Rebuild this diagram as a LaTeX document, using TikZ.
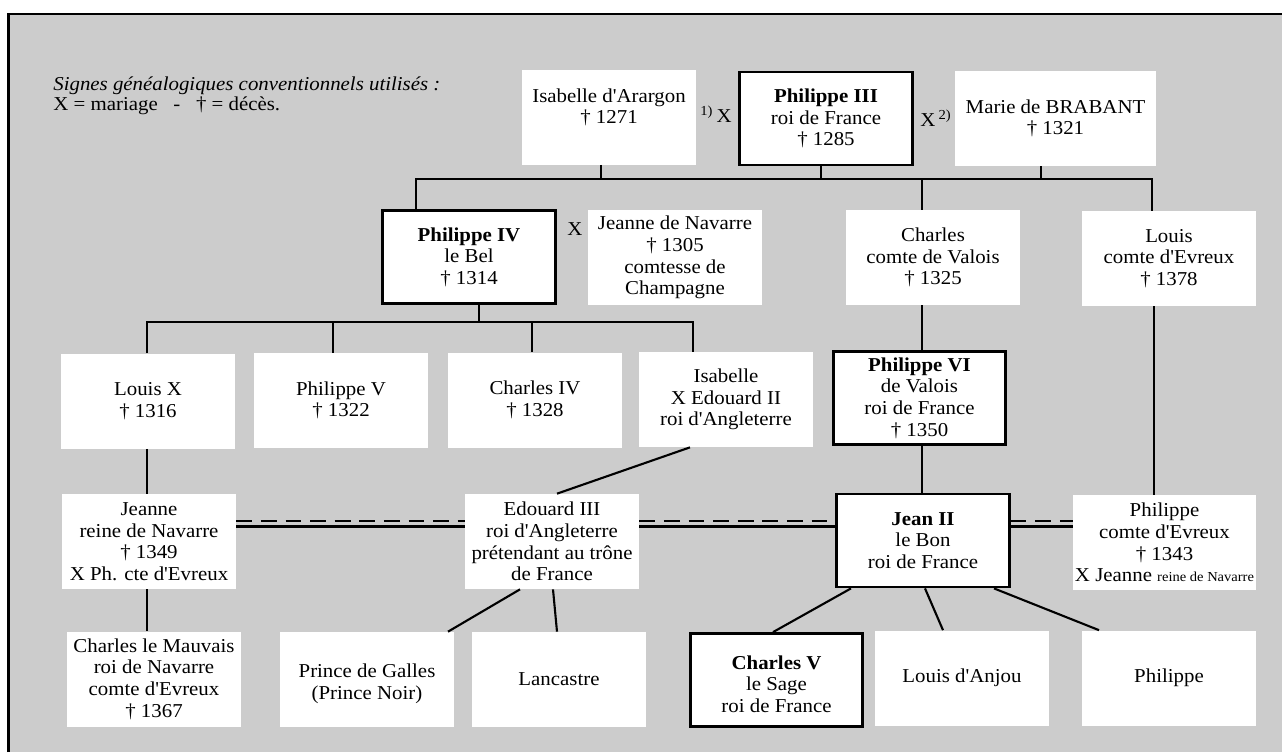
\documentclass[tikz,border=0pt]{standalone}
\usepackage{fontspec}
\setmainfont{Liberation Serif}[Ligatures=TeXOff, FakeStretch=1.06]
\definecolor{panel}{HTML}{CCCCCC}
\tikzset{
  person/.style={fill=white, align=center, inner sep=0pt, minimum width=3.48cm, minimum height=1.9cm, font=\fontsize{11.2}{12.3}\selectfont},
  king/.style={person, draw, line width=1.6pt, minimum width=3.45cm, minimum height=1.86cm},
  wed/.style={font=\fontsize{11.2}{12.3}\selectfont, inner sep=0pt},
  link/.style={line width=1.2pt},
}

\begin{document}
\begin{tikzpicture}[x=0.02cm, y=-0.02cm]
        \useasboundingbox (0,0) rectangle (1282,752);
        % Panel and frame
        \fill[panel] (8.5,14) rectangle (1282,752);
        \draw[line width=1.5pt] (8.5,752) -- (8.5,14) -- (1282,14);

        % Legend
        \node[wed, anchor=base west] (legA) at (53,90) {\textit{Signes généalogiques conventionnels utilisés :}};
        \node[wed, anchor=base west] (legB) at (53,110) {X = mariage \ \ - \ \ † = décès.};

        % Philippe III and his wives
        \node[person] (isabA) at (609,117) {Isabelle d'Arargon\\† 1271\\\mbox{}};
        \node[king] (phil3) at (826,118.5) {\textbf{Philippe III}\\roi de France\\† 1285};
        \node[person, minimum width=4.02cm] (marie) at (1055.5,118.5) {Marie de BRABANT\\† 1321};
        \node[wed] (wedA) at (716,114) {\textsuperscript{1)}\,X};
        \node[wed] (wedB) at (936,118) {X\,\textsuperscript{2)}};

        % Second generation
        \node[king] (phil4) at (469,257) {\textbf{Philippe IV}\\le Bel\\† 1314};
        \node[wed] (wedC) at (575,229) {X};
        \node[person] (jeanneN) at (675,257.5) {Jeanne de Navarre\\† 1305\\comtesse de\\Champagne};
        \node[person] (valois) at (933,257.5) {Charles\\comte de Valois\\† 1325};
        \node[person] (louisE) at (1169,258.5) {Louis\\comte d'Evreux\\† 1378};

        \coordinate (busA) at (0,179);
        \draw[link] (isabA.south -| 601,0) -- (busA -| 601,0);
        \draw[link] (phil3.south -| 821,0) -- (busA -| 821,0);
        \draw[link] (marie.south -| 1041,0) -- (busA -| 1041,0);
        \draw[link] (phil4.north -| 416,0) -- (busA -| 416,0) -- (busA -| 1152,0) -- (louisE.north -| 1152,0);
        \draw[link] (busA -| 922,0) -- (valois.north -| 922,0);

        % Third generation
        \node[person] (louisX) at (148,401) {Louis X\\† 1316};
        \node[person] (philV) at (341,400.5) {Philippe V\\† 1322};
        \node[person] (charlesIV) at (535,400) {Charles IV\\† 1328};
        \node[person] (isabelle) at (726,399.5) {Isabelle\\X Edouard II\\roi d'Angleterre};
        \node[king] (phil6) at (919.5,398) {\textbf{Philippe VI}\\de Valois\\roi de France\\† 1350};

        \coordinate (busB) at (0,322);
        \draw[link] (phil4.south -| 479,0) -- (busB -| 479,0);
        \draw[link] (louisX.north -| 147,0) -- (busB -| 147,0) -- (busB -| 693,0) -- (isabelle.north -| 693,0);
        \draw[link] (busB -| 333,0) -- (philV.north -| 333,0);
        \draw[link] (busB -| 532,0) -- (charlesIV.north -| 532,0);
        \draw[link] (valois.south -| 922,0) -- (phil6.north -| 922,0);

        % Fourth generation
        \node[person] (jeanne) at (149,541.5) {Jeanne\\reine de Navarre\\† 1349\\X Ph. cte d'Evreux};
        \node[person] (edouard) at (552,541.5) {Edouard III\\roi d'Angleterre\\prétendant au trône\\de France};
        \node[king] (jean2) at (923,540.5) {\textbf{Jean II}\\le Bon\\roi de France};
        \node[person, minimum width=3.66cm] (philE) at (1164.5,542.5) {Philippe\\comte d'Evreux\\† 1343\\X Jeanne {\fontsize{7.8}{9}\selectfont reine de Navarre}};

        \foreach \a/\b in {jeanne/edouard, edouard/jean2, jean2/philE} {
            \draw[link, dash pattern=on 9pt off 5pt] (\a.east |- 0,521) -- (\b.west |- 0,521);
            \draw[link] (\a.east |- 0,526.5) -- (\b.west |- 0,526.5);
        }
        \draw[link] (louisX.south -| 147,0) -- (jeanne.north -| 147,0);
        \draw[link] (isabelle.south -| 690,0) -- (edouard.north -| 557,0);
        \draw[link] (phil6.south -| 922,0) -- (jean2.north -| 922,0);
        \draw[link] (louisE.south -| 1154,0) -- (philE.north -| 1154,0);

        % Fifth generation
        \node[person] (mauvais) at (154,679) {Charles le Mauvais\\roi de Navarre\\comte d'Evreux\\† 1367};
        \node[person] (galles) at (367,679.5) {\mbox{}\\Prince de Galles\\(Prince Noir)};
        \node[person] (lancastre) at (559,679.5) {Lancastre};
        \node[king] (charles5) at (776.5,680) {\mbox{}\\\textbf{Charles V}\\le Sage\\roi de France};
        \node[person] (anjou) at (962,678) {Louis d'Anjou};
        \node[person] (philippe) at (1169,678) {Philippe};

        \draw[link] (jeanne.south -| 147,0) -- (mauvais.north -| 147,0);
        \draw[link] (edouard.south -| 520,0) -- (galles.north -| 448,0);
        \draw[link] (edouard.south -| 553,0) -- (lancastre.north -| 557,0);
        \draw[link] (jean2.south -| 851,0) -- (charles5.north -| 773,0);
        \draw[link] (jean2.south -| 925,0) -- (anjou.north -| 943,0);
        \draw[link] (jean2.south -| 994,0) -- (philippe.north -| 1099,0);
    \end{tikzpicture}
\end{document}
